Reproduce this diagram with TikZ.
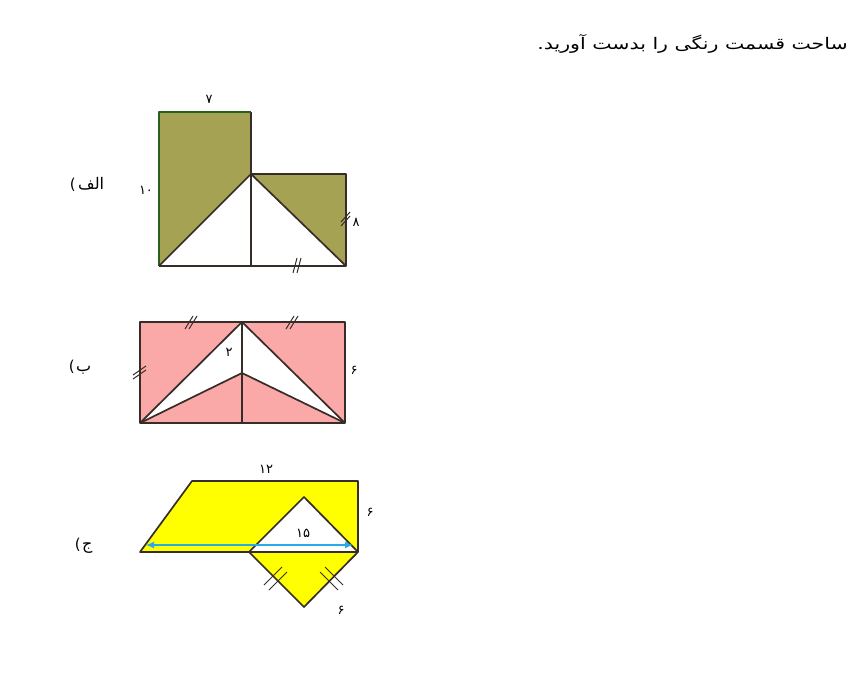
\documentclass[tikz,border=0pt]{standalone}
\usepackage{fontspec}
\TeXXeTstate=1
\newfontfamily\arabicfont[Script=Arabic]{DejaVu Sans}
\newfontfamily\parenfont{DejaVu Sans}
\usetikzlibrary{arrows.meta}
\definecolor{olivefill}{RGB}{166,162,84}
\definecolor{pinkfill}{RGB}{250,168,168}
\definecolor{yellowfill}{RGB}{255,255,0}
\definecolor{darkgreen}{RGB}{40,95,30}
\definecolor{arrowcyan}{RGB}{40,170,230}
\definecolor{linecol}{RGB}{55,45,40}
\begin{document}
\begin{tikzpicture}[x=1pt,y=-1pt,
  edgeline/.style={draw=linecol, line width=1.7pt, line join=round},
  tickmark/.style={draw=linecol, line width=1pt},
  numlabel/.style={font=\arabicfont\fontsize{13}{14}\selectfont, inner sep=1pt},
  partlabel/.style={font=\arabicfont\fontsize{16}{17}\selectfont, inner sep=0pt},
  parenlabel/.style={font=\parenfont\fontsize{15}{16}\selectfont, inner sep=0pt, anchor=base east}]
\useasboundingbox (0,0) rectangle (852,686);

% title
\node[font=\arabicfont\fontsize{16}{17}\selectfont, anchor=east, inner sep=0pt] (title) at (848,44) {\scalebox{1.28}[1]{\beginR ساحت قسمت رنگی را بدست آورید.\endR}};

% ---------- figure alef ----------
\coordinate (A1) at (159,112);
\coordinate (A2) at (251,112);
\coordinate (A3) at (251,174);
\coordinate (A4) at (346,174);
\coordinate (A5) at (346,266);
\coordinate (A6) at (251,266);
\coordinate (A7) at (159,266);
\fill[olivefill] (A1)--(A2)--(A3)--(A7)--cycle;
\fill[olivefill] (A3)--(A4)--(A5)--cycle;
\draw[edgeline] (A2)--(A3)--(A4)--(A5)--(A7);
\draw[edgeline, draw=darkgreen] (A7)--(A1)--(A2);
\draw[edgeline] (A7)--(A3)--(A5);
\draw[edgeline] (A3)--(A6);
\node[numlabel] (a7) at (209,99) {۷};
\node[numlabel] (a10) at (146,190) {۱۰};
\node[numlabel] (a8) at (356,222) {۸};
\draw[tickmark] (341,222)--(350,212) (341,226)--(350,216);
\draw[tickmark] (293,273)--(297,258) (297,273)--(301,258);
\node[partlabel, anchor=base west] (lalef) at (78,189) {\beginR الف\endR};
\node[parenlabel] (palef) at ([xshift=-2pt]lalef.base west) {(};

% ---------- figure be ----------
\coordinate (B1) at (140,322);
\coordinate (B2) at (242,322);
\coordinate (B3) at (345,322);
\coordinate (B4) at (345,423);
\coordinate (B5) at (242,423);
\coordinate (B6) at (140,423);
\coordinate (B7) at (242,373);
\fill[pinkfill] (B1) rectangle (B4);
\fill[white] (B6)--(B2)--(B7)--cycle;
\fill[white] (B4)--(B2)--(B7)--cycle;
\draw[edgeline] (B1) rectangle (B4);
\draw[edgeline] (B6)--(B2)--(B4);
\draw[edgeline] (B6)--(B7)--(B4);
\draw[edgeline] (B2)--(B5);
\node[numlabel] (b2) at (229,352) {۲};
\node[numlabel] (b6) at (354,370) {۶};
\draw[tickmark] (185,329)--(193,316) (189,329)--(197,316);
\draw[tickmark] (286,329)--(294,316) (290,329)--(298,316);
\draw[tickmark] (133,375)--(146,366) (133,379)--(146,370);
\node[partlabel, anchor=base west] (lbe) at (76,371) {\beginR ب\endR};
\node[parenlabel] (pbe) at ([xshift=-1pt]lbe.base west) {(};

% ---------- figure jim ----------
\coordinate (C1) at (140,552);
\coordinate (C2) at (192,481);
\coordinate (C3) at (358,481);
\coordinate (C4) at (358,552);
\coordinate (C5) at (249,552);
\coordinate (C6) at (304,497);
\coordinate (C7) at (304,607);
\fill[yellowfill] (C1)--(C2)--(C3)--(C4)--cycle;
\fill[white] (C5)--(C6)--(C4)--cycle;
\fill[yellowfill] (C5)--(C7)--(C4)--cycle;
\draw[edgeline] (C1)--(C2)--(C3)--(C4)--cycle;
\draw[edgeline] (C5)--(C6)--(C4);
\draw[edgeline] (C5)--(C7)--(C4);
\coordinate (D1) at (146,545);
\coordinate (D2) at (353,545);
\draw[arrowcyan, line width=1.2pt, {Latex[length=8pt,width=7pt]}-{Latex[length=8pt,width=7pt]}] (D1)--(D2);
\node[numlabel] (c12) at (266,469) {۱۲};
\node[numlabel] (c15) at (303,533) {۱۵};
\node[numlabel] (c6a) at (370,512) {۶};
\node[numlabel] (c6b) at (341,610) {۶};
\draw[tickmark] (269,590)--(287,572) (264,585)--(282,567);
\draw[tickmark] (320,572)--(338,590) (325,567)--(343,585);
\node[partlabel, anchor=base west] (lje) at (82,549) {\beginR ج\endR};
\node[parenlabel] (pje) at ([xshift=-1pt]lje.base west) {(};
\end{tikzpicture}
\end{document}
